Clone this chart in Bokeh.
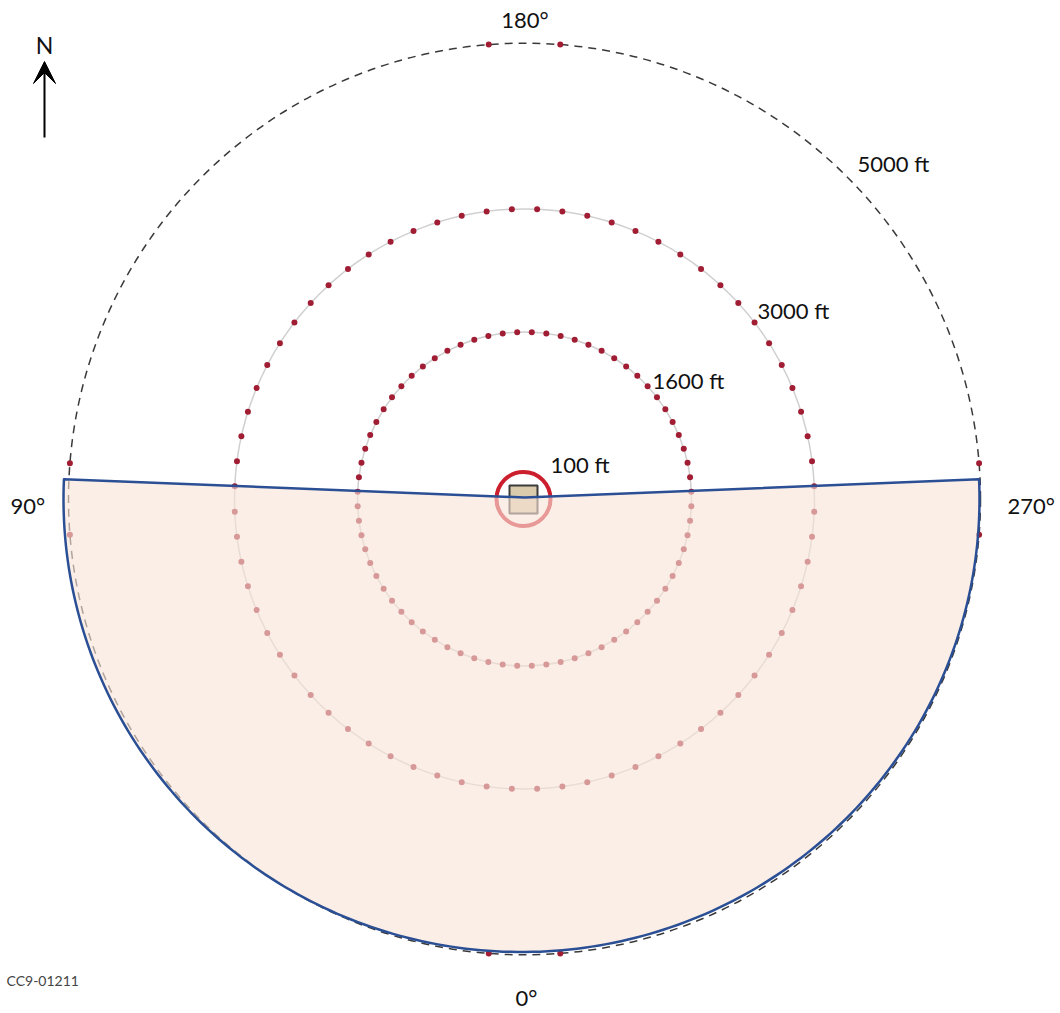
import numpy as np
from bokeh.plotting import figure
from bokeh.models import Range1d, Arrow, VeeHead
from bokeh.core.properties import value
from bokeh.embed import file_html
from bokeh.resources import INLINE

# ---- data ----
ring_labels = ["100 ft", "1600 ft", "3000 ft", "5000 ft"]
ring_radius = [27, 167, 290, 456]          # drawing units (diagram not to scale)
dot_ring_radius = [167, 290]
dot_start_deg = 2.5
dot_step_deg = 5.0
outer_dot_az = [175.5, 184.5, 85.5, 94.5, 265.5, 274.5, 355.5, 4.5]
azimuth_labels = ["0°", "90°", "180°", "270°"]
sector_az = [267.5, 92.5]                  # shaded sector, clockwise through 0°
figure_id = "CC9-01211"

FONT = value("Lato")

def az_xy(az_deg, r, cx=0.0, cy=0.0, rx=None, ry=None):
    t = np.deg2rad(-90.0 - np.asarray(az_deg, dtype=float))
    rx = r if rx is None else rx
    ry = r if ry is None else ry
    return cx + rx * np.cos(t), cy + ry * np.sin(t)

W, H = 1056, 1010
cx_img, cy_img = 524.0, 498.5
p = figure(width=W, height=H, output_backend="svg", toolbar_location=None,
           x_range=Range1d(-cx_img, W - cx_img),
           y_range=Range1d(cy_img - H, cy_img),
           x_axis_type=None, y_axis_type=None, min_border=0,
           background_fill_color="white", border_fill_color="white")
p.grid.visible = False
p.outline_line_color = None

# grey ring lines
p.circle(x=[0, 0], y=[0, 0], radius=dot_ring_radius, fill_color=None,
         line_color="#cfcfcf", line_width=1.5)
# dots on rings
for r in dot_ring_radius:
    az = np.arange(dot_start_deg, 360, dot_step_deg)
    xs, ys = az_xy(az, r)
    p.scatter(xs, ys, size=6, fill_color="#a11d33", line_color=None)
# outer dashed ring
p.circle(x=[0], y=[0], radius=[ring_radius[3]], fill_color=None,
         line_color="#3a3a3a", line_width=1.5, line_dash="8 6")
xs, ys = az_xy(outer_dot_az, ring_radius[3])
p.scatter(xs, ys, size=6, fill_color="#a11d33", line_color=None)
# 100 ft ring and site square
p.circle(x=[-1], y=[0], radius=[ring_radius[0]], fill_color=None,
         line_color="#cc1f2e", line_width=4)
p.rect(x=[-1], y=[-0.5], width=28, height=28, fill_color="#d9cbab",
       line_color="#3a3a3a", line_width=2)

# shaded sector (translucent overlay)
a0, a1 = sector_az
arc_az = np.linspace(a0, a1 + 360, 200)
ax_, ay_ = az_xy(arc_az, 0, cx=-3, rx=458, ry=453)
px = np.concatenate([[0.0], ax_])
py = np.concatenate([[1.5], ay_])
p.patch(px, py, fill_color="#f8e3d6", fill_alpha=0.62, line_color=None)
p.line(np.append(px, px[0]), np.append(py, py[0]), line_color="#2b4f94",
       line_width=2.5, line_join="round")

# ring labels
lab_x = [26, 128, 233, 333]
lab_y = [34.5, 119, 189, 336]
p.text(x=lab_x, y=lab_y, text=ring_labels, text_font=FONT,
       text_font_size=value("22px"), text_color="#111111",
       text_align="left", text_baseline="alphabetic")

# azimuth labels
p.text(x=[0.5], y=[479.5], text=[azimuth_labels[2]], text_font=FONT,
       text_font_size=value("22px"), text_color="#111111",
       text_align="center", text_baseline="alphabetic")
p.text(x=[2], y=[-498.5], text=[azimuth_labels[0]], text_font=FONT,
       text_font_size=value("22px"), text_color="#111111",
       text_align="center", text_baseline="alphabetic")
p.text(x=[-514], y=[-6.5], text=[azimuth_labels[1]], text_font=FONT,
       text_font_size=value("22px"), text_color="#111111",
       text_align="left", text_baseline="alphabetic")
p.text(x=[483], y=[-6.5], text=[azimuth_labels[3]], text_font=FONT,
       text_font_size=value("22px"), text_color="#111111",
       text_align="left", text_baseline="alphabetic")

# figure id
p.text(x=[-518], y=[-481], text=[figure_id], text_font=FONT,
       text_font_size=value("14px"), text_color="#444444",
       text_align="left", text_baseline="alphabetic")

# north arrow
p.text(x=[-480], y=[454.5], text=["N"], text_font=FONT,
       text_font_size=value("23px"), text_color="#111111",
       text_align="center", text_baseline="alphabetic")
p.add_layout(Arrow(end=VeeHead(size=22, fill_color="black", line_color="black",
                               line_width=1),
                   x_start=-480, y_start=361.5, x_end=-480, y_end=437.5,
                   line_color="black", line_width=2))

open("out.html", "w").write(file_html(p, INLINE))
